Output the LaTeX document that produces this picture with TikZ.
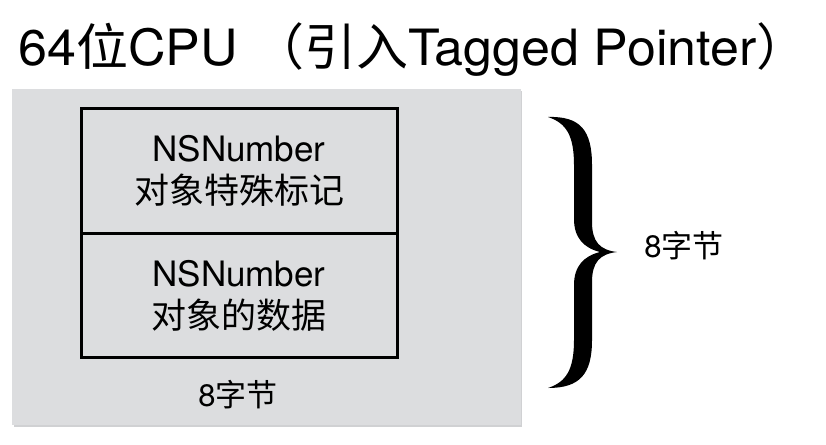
\documentclass[tikz,border=0pt]{standalone}
\usepackage{fontspec}
\setmainfont{TeX Gyre Heros}
\newfontfamily\cjk{Noto Sans CJK SC}
\newcommand{\zh}[1]{{\cjk #1}}
\newcommand{\taille}[2]{\fontsize{#1}{#2}\selectfont}
\definecolor{fondgris}{RGB}{220,221,223}
\definecolor{ombre}{RGB}{208,209,211}

\begin{document}
\begin{tikzpicture}[x=1pt,y=-1pt,
	fond/.style={fill=fondgris, inner sep=0, minimum width=509, minimum height=336},
	case/.style={draw, line width=3, inner sep=0, minimum width=316, minimum height=124.5, align=center, font=\taille{35}{42}},
	etiq/.style={inner sep=0, font=\taille{31}{31}}]
	\useasboundingbox (0,0) rectangle (826,444);
	\node[anchor=base west, inner sep=0, font=\taille{50}{50}] (titre) at (18,65) {\scalebox{1.04}[1]{64\zh{位}CPU \zh{（引入}Tagged Pointer\makebox[0.5em][l]{\zh{）}}}};
	\fill[ombre] (14,91) rectangle (522,427);
	\node[fond] (boite) at (266.5,257) {};
	\node[case] (haut) at (239,171) {NSNumber\\ \zh{对象特殊标记}};
	\node[case] (bas) at (239,295.5) {NSNumber\\ \zh{对象的数据}};
	\node[etiq] (taillebas) at (238,395) {8\zh{字节}};
	\fill (548,117) .. controls (580,116) and (592,130) .. (592,165)
		-- (592,222) .. controls (592,242) and (600,250) .. (617,252)
		.. controls (600,254) and (592,262) .. (592,282)
		-- (592,340) .. controls (592,374) and (580,388) .. (548,388)
		.. controls (566,382) and (574,370) .. (574,340)
		-- (574,285) .. controls (574,266) and (584,256) .. (600,252)
		.. controls (584,248) and (574,238) .. (574,219)
		-- (574,165) .. controls (574,135) and (566,123) .. (548,117) -- cycle;
	\node[etiq] (tailledroite) at (684,246) {8\zh{字节}};
\end{tikzpicture}
\end{document}
